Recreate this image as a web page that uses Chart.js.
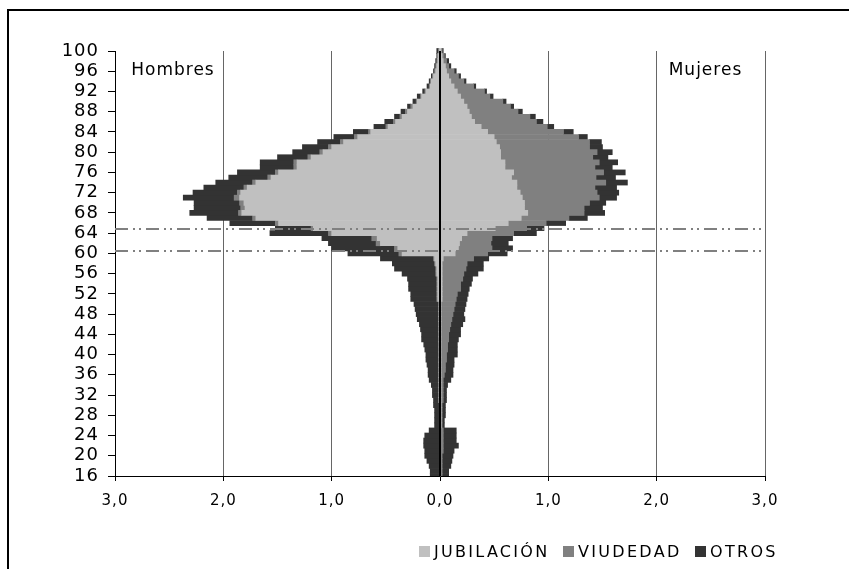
<!DOCTYPE html>
<html>
<head>
<meta charset="utf-8">
<script src="https://cdn.jsdelivr.net/npm/chart.js"></script>
<style>
  body { margin: 0; background: #fff; }
  #wrap { position: relative; width: 849px; height: 569px; overflow: hidden; }
  #frame { position: absolute; left: 7px; top: 9px; width: 900px; height: 600px; border: 2px solid #000; }
  canvas { position: absolute; left: 0; top: 0; }
  .leg { position: absolute; top: 542px; font: 16px 'DejaVu Sans'; letter-spacing: 2.3px; color: #000;
         display: flex; align-items: center; white-space: nowrap; }
  .leg i { display: inline-block; width: 11px; height: 11px; margin-right: 4px; }
</style>
</head>
<body>
<div id="wrap">
  <div id="frame"></div>
  <canvas id="pyramid" width="849" height="569"></canvas>
  <div class="leg" style="left:419px"><i style="background:#c0c0c0"></i>JUBILACIÓN</div>
  <div class="leg" style="left:563px"><i style="background:#808080"></i>VIUDEDAD</div>
  <div class="leg" style="left:695px"><i style="background:#333333"></i>OTROS</div>
</div>
<script>
// ages 16..100
const ages = [];
for (let a = 16; a <= 100; a++) ages.push(a);

// Hombres (drawn to the left)
const menJub = [
  0, 0, 0, 0, 0, 0, 0, 0, 0, 0, 0, 0, 0, 0, 0,
  .01, .01, .01, .01, .01, .01, .01, .01, .01, .01, .01, .01, .01, .01, .01, .01, .01, .01, .01, .01,
  .02, .02, .02, .02, .02, .03, .03, .04, .05,
  .35, .39, .55, .58, 1.00, 1.17, 1.49, 1.70, 1.83, 1.80, 1.81, 1.85, 1.84, 1.78, 1.70, 1.56, 1.49,
  1.32, 1.32, 1.19, 1.08, 1.00, .89, .76, .64, .48, .41, .35, .30, .25, .21, .17, .13, .09, .08,
  .06, .04, .03, .02, .02, .01
];
const menViu = [
  0, 0, 0, 0, 0, 0, 0, 0, 0, 0, 0, 0, 0, 0, 0, 0, 0, 0, 0, 0, 0, 0, 0, 0, 0, 0, 0, 0, 0, 0, 0, 0, 0, 0, 0,
  .01, .01, .01, .01, .01, .01, .01, .01, .01,
  .03, .03, .04, .05, .03, .02, .03, .03, .03, .04, .04, .05, .03, .03, .03, .03, .03, .03, .03, .03,
  .03, .03, .03, .03, .02, .02, .02, .02, .02, .02, .01, .01, .01, .01, .01, .01, .01, .01, .01, 0, 0
];
const menOtr = [
  .09, .09, .10, .12, .14, .14, .15, .15, .14, .10, .05, .05, .05, .05, .06,
  .05, .06, .06, .07, .09, .10, .10, .11, .12, .12, .13, .14, .16, .16, .17, .18, .20, .21, .22, .23,
  .24, .24, .26, .26, .27, .31, .38, .39, .49,
  .47, .58, .44, .46, .54, .33, .42, .42, .45, .43, .42, .47, .41, .37, .34, .36, .35, .31, .31, .28,
  .25, .24, .21, .19, .14, .11, .08, .05, .04, .03, .03, .03, .02, .02, .01, .01, .01, .01, .01, .01, .02
];

// Mujeres (drawn to the right)
const womenJub = [
  0, 0, 0, 0, 0, 0, 0, 0, 0, 0,
  .01, .01, .01, .01, .01, .01, .01, .01, .01, .01, .01, .01, .01, .01, .01, .01, .01, .01, .01, .01,
  .01, .01, .01, .01, .01,
  .02, .02, .02, .02, .02, .02, .02, .02, .03,
  .14, .17, .18, .20, .25, .51, .63, .75, .81, .78, .78, .76, .74, .71, .71, .66, .68, .60, .60, .56,
  .56, .55, .52, .50, .44, .38, .32, .29, .27, .25, .22, .19, .16, .13, .10, .08, .06, .05, .03, .02, .01
];
const womenViu = [
  .02, .02, .02, .02, .02, .03, .03, .03, .03, .03,
  .01, .01, .01, .01, .01, .02, .02, .02, .02, .02,
  .03, .04, .04, .05, .05, .06, .06, .07, .07, .08,
  .09, .10, .11, .12, .13, .13, .14, .17, .17, .19,
  .20, .22, .23, .28, .30, .31, .29, .28, .43, .29,
  .35, .44, .52, .55, .60, .71, .71, .72, .82, .78,
  .83, .83, .87, .85, .89, .83, .86, .78, .70, .61,
  .57, .54, .45, .40, .36, .27, .25, .18, .12, .09,
  .07, .03, .03, .02, .01
];
const womenOtr = [
  .06, .06, .08, .09, .10, .10, .14, .12, .12, .12,
  .02, .02, .03, .03, .03, .03, .03, .03, .04, .07,
  .08, .07, .08, .07, .10, .09, .09, .09, .11, .10,
  .11, .12, .10, .10, .10, .10, .10, .08, .10, .09,
  .13, .16, .15, .14, .18, .19, .16, .19, .21, .16,
  .18, .17, .19, .17, .15, .16, .20, .20, .20, .18,
  .20, .16, .17, .14, .14, .12, .11, .08, .09, .06,
  .06, .05, .04, .03, .03, .03, .02, .02, .02, .02,
  .02, .02, .02, .01, .01
];

const xTicks = [-3, -2, -1, 0, 1, 2, 3];
const refLines = [64.75, 60.5];

const colJub = '#c0c0c0';
const colViu = '#808080';
const colOtr = '#333333';

function toPoints(vals, sign) {
  return ages.map((a, i) => ({ x: sign * vals[i], y: a }));
}

function barSet(label, vals, sign, color) {
  return {
    label: label,
    data: toPoints(vals, sign),
    backgroundColor: color,
    borderWidth: 0,
    stack: 'edad',
    barPercentage: 1.0,
    categoryPercentage: 1.0,
    clip: { left: false, top: false, right: false, bottom: 0 }
  };
}

const extras = {
  id: 'extras',
  beforeLayout(chart) { chart.ctx.letterSpacing = '1px'; },
  beforeDraw(chart) { chart.ctx.letterSpacing = '1px'; },
  afterDatasetsDraw(chart) {
    const { ctx, chartArea: a, scales: { x, y } } = chart;
    ctx.save();
    // dash-dot reference lines
    ctx.strokeStyle = '#808080';
    ctx.lineWidth = 2;
    ctx.setLineDash([13, 5, 2, 4, 2, 5]);
    refLines.forEach(v => {
      const py = Math.round(y.getPixelForValue(v));
      ctx.beginPath();
      ctx.moveTo(a.left, py);
      ctx.lineTo(a.right, py);
      ctx.stroke();
    });
    ctx.setLineDash([]);
    // zero line
    const x0 = x.getPixelForValue(0);
    ctx.strokeStyle = '#000';
    ctx.lineWidth = 2;
    ctx.beginPath();
    ctx.moveTo(x0, a.top);
    ctx.lineTo(x0, a.bottom);
    ctx.stroke();
    // side labels
    ctx.fillStyle = '#000';
    ctx.font = "17px 'DejaVu Sans'";
    ctx.textBaseline = 'middle';
    ctx.textAlign = 'left';
    ctx.fillText('Hombres', x.getPixelForValue(-2.85), y.getPixelForValue(96.2));
    ctx.textAlign = 'right';
    ctx.fillText('Mujeres', x.getPixelForValue(2.79), y.getPixelForValue(96.2));
    ctx.restore();
  }
};

new Chart(document.getElementById('pyramid').getContext('2d'), {
  type: 'bar',
  data: {
    datasets: [
      barSet('JUBILACIÓN', menJub, -1, colJub),
      barSet('VIUDEDAD', menViu, -1, colViu),
      barSet('OTROS', menOtr, -1, colOtr),
      barSet('JUBILACIÓN', womenJub, 1, colJub),
      barSet('VIUDEDAD', womenViu, 1, colViu),
      barSet('OTROS', womenOtr, 1, colOtr)
    ]
  },
  options: {
    indexAxis: 'y',
    responsive: false,
    animation: false,
    devicePixelRatio: 1,
    layout: { padding: { left: 0, right: 84, top: 51, bottom: 53 } },
    plugins: {
      legend: { display: false },
      tooltip: { enabled: false }
    },
    scales: {
      x: {
        type: 'linear',
        stacked: true,
        min: -3,
        max: 3,
        afterBuildTicks: s => { s.ticks = xTicks.map(v => ({ value: v })); },
        afterFit: s => { s.height = 40; },
        grid: { color: '#666', lineWidth: 1, tickLength: 5, tickColor: '#000' },
        border: { color: '#000', width: 1 },
        ticks: {
          color: '#000',
          font: { family: 'DejaVu Sans', size: 15 },
          padding: 11,
          maxRotation: 0,
          callback: v => Math.abs(v).toFixed(1).replace('.', ',')
        }
      },
      y: {
        type: 'linear',
        stacked: true,
        min: 16,
        max: 100,
        offset: false,
        afterFit: s => { s.width = 115; },
        grid: { offset: false, drawOnChartArea: false, tickLength: 7, tickColor: '#000' },
        border: { color: '#000', width: 1 },
        ticks: {
          stepSize: 4,
          autoSkip: false,
          color: '#000',
          font: { family: 'DejaVu Sans', size: 18 },
          padding: 9
        }
      }
    }
  },
  plugins: [extras]
});
</script>
</body>
</html>
